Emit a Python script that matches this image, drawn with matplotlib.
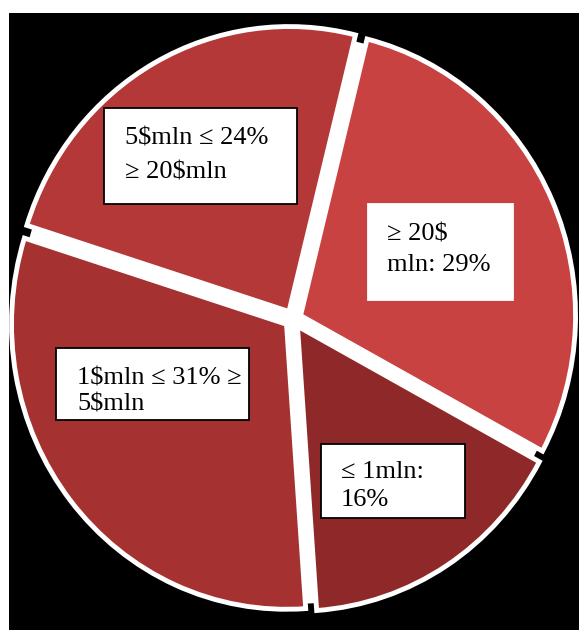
import matplotlib.pyplot as plt
from matplotlib.patches import Rectangle

# slices, counter-clockwise from the top gap
shares = [24, 31, 16, 29]
labels = [
    ["5$mln \u2264 24%", "\u2265 20$mln"],
    ["1$mln \u2264 31% \u2265", "5$mln"],
    ["\u2264 1mln:", "16%"],
    ["\u2265 20$", "mln: 29%"],
]
colors = ["#b43838", "#a63131", "#8f2929", "#c84242"]

W, H = 579, 630
fig = plt.figure(figsize=(W / 100, H / 100), dpi=100, facecolor="white")

# black panel
ax = fig.add_axes([9 / W, 0, (W - 9) / W, (H - 13) / H])
# white disc under the slices fills the gaps between them
ax.pie([1], colors=["white"], radius=1.0)
ax.pie(shares, startangle=76, counterclock=True, colors=colors,
       explode=[0.03] * 4, radius=1.0,
       wedgeprops=dict(edgecolor="white", linewidth=3.5))
ax.set_aspect("auto")
ax.set_frame_on(True)
ax.set_facecolor("black")
for s in ax.spines.values():
    s.set_visible(False)
ax.set_xticks([])
ax.set_yticks([])

# pie center at pixel (293, 319), radii ~275 x 285 px
pw, ph = W - 9, H - 13
cx, cy = (293 - 9) / pw, 1 - (319 - 13) / ph
xr, yr = pw / 275, ph / 285
ax.set_xlim(-cx * xr, (1 - cx) * xr)
ax.set_ylim(-cy * yr, (1 - cy) * yr)

# label boxes in pixels from top-left: box, border, text x, baselines
boxes = [
    ((104, 108, 297, 204), True, 125, (145, 178)),
    ((56, 348, 249, 420), True, 77, (384, 410)),
    ((321, 444, 465, 518), True, 341, (478, 506)),
    ((368, 204, 513, 300), False, 387, (240, 271)),
]

for lab, ((x0, y0, x1, y1), border, tx, bl) in zip(labels, boxes):
    fig.patches.append(Rectangle((x0 / W, 1 - y1 / H), (x1 - x0) / W, (y1 - y0) / H,
                                 transform=fig.transFigure, facecolor="white",
                                 edgecolor="black" if border else "white",
                                 linewidth=1.3, zorder=5))
    for line, b in zip(lab, bl):
        fig.text(tx / W, 1 - b / H, line, fontsize=19, family="Liberation Serif",
                 ha="left", va="baseline", color="black", zorder=6)

fig.savefig("out.png", dpi=100, facecolor="white")
